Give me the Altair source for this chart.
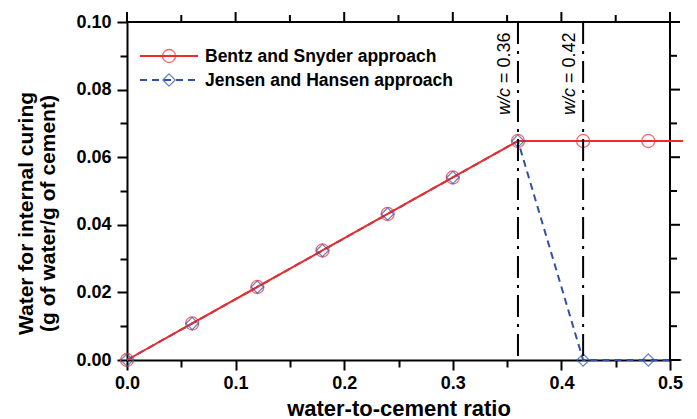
import altair as alt
import pandas as pd

# ---- data ----
wc = [0.0, 0.06, 0.12, 0.18, 0.24, 0.30, 0.36, 0.42, 0.48]
bentz = [0.0, 0.0108, 0.0216, 0.0324, 0.0432, 0.0540, 0.0648, 0.0648, 0.0648]
jensen = [0.0, 0.0108, 0.0216, 0.0324, 0.0432, 0.0540, 0.0648, 0.0, 0.0]
line_end_wc = 0.512          # lines run a little past the last marker
line_end_bentz = 0.0648
line_end_jensen = 0.0
wc_limits = [0.36, 0.42]
x_ticks = [0.0, 0.05, 0.1, 0.15, 0.2, 0.25, 0.3, 0.35, 0.4, 0.45, 0.5]
y_ticks = [0.0, 0.01, 0.02, 0.03, 0.04, 0.05, 0.06, 0.07, 0.08, 0.09, 0.1]
legend_labels = ["Bentz and Snyder approach", "Jensen and Hansen approach"]

RED = "#ee2b2b"
BLUE = "#3050a8"
FONT = "Liberation Sans"

W, H = 543, 338
MAJ, MIN = 10, 7

pts = pd.DataFrame({"wc": wc, "bentz": bentz, "jensen": jensen})
lines = pd.DataFrame({
    "wc": wc + [line_end_wc],
    "bentz": bentz + [line_end_bentz],
    "jensen": jensen + [line_end_jensen],
})
limits = pd.DataFrame({"wc": wc_limits})
xt = pd.DataFrame({"wc": x_ticks})
yt = pd.DataFrame({"y": y_ticks})

xs = alt.Scale(domain=[0, 0.5], nice=False, zero=False)
ys = alt.Scale(domain=[0, 0.1], nice=False, zero=False)

x_major = "round(datum.value*100) % 10 === 0"
y_major = "round(datum.value*100) % 2 === 0"

common_axis = dict(
    domainColor="black", domainWidth=2, tickColor="black", tickWidth=2,
    labelFlush=False,
    labelFont=FONT, labelFontWeight="bold", labelFontSize=18, labelColor="black",
    titleFont=FONT, titleFontWeight="bold", titleColor="black",
    grid=False,
)

x_bottom = alt.Axis(
    orient="bottom", values=x_ticks, title="water-to-cement ratio",
    labelExpr=f"{x_major} ? format(datum.value, '.1f') : ''",
    tickSize={"condition": {"test": x_major, "value": MAJ}, "value": MIN},
    labelPadding=4, titlePadding=6, titleFontSize=22, **common_axis,
)
y_left = alt.Axis(
    orient="left", values=y_ticks,
    title=["Water for internal curing", "(g of water/g of cement)"],
    labelExpr=f"{y_major} ? format(datum.value, '.2f') : ''",
    tickSize={"condition": {"test": y_major, "value": MAJ}, "value": MIN},
    labelPadding=6, titlePadding=17, titleLineHeight=22, titleFontSize=21,
    titleY=191, **common_axis,
)


def X(field):
    return alt.X(f"{field}:Q", scale=xs, axis=x_bottom)


def Y(field):
    return alt.Y(f"{field}:Q", scale=ys, axis=y_left)


jensen_line = alt.Chart(lines).mark_line(
    color=BLUE, strokeWidth=2, strokeDash=[7, 5]
).encode(x=X("wc"), y=Y("jensen"))
bentz_line = alt.Chart(lines).mark_line(color=RED, strokeWidth=2).encode(
    x=X("wc"), y=Y("bentz"))
bentz_pts = alt.Chart(pts).mark_point(
    shape="circle", size=170, filled=False, color=RED, strokeWidth=1.3
).encode(x=X("wc"), y=Y("bentz"))
jensen_pts = alt.Chart(pts).mark_point(
    shape="diamond", size=150, filled=False, color=BLUE, strokeWidth=1.3
).encode(x=X("wc"), y=Y("jensen"))
rules = alt.Chart(limits).mark_rule(
    color="black", strokeWidth=2, strokeDash=[22, 7, 3, 7]
).encode(x=X("wc"))

# ---- mirrored ticks on the top and right frame edges ----
tick_style = dict(color="black", strokeWidth=2)
x_is_major = "round(datum.wc*100) % 10 === 0"
y_is_major = "round(datum.y*100) % 2 === 0"
top_major = alt.Chart(xt).transform_filter(x_is_major).mark_rule(**tick_style).encode(
    x=X("wc"), y=alt.value(-MAJ), y2=alt.value(0))
top_minor = alt.Chart(xt).transform_filter(f"!({x_is_major})").mark_rule(**tick_style).encode(
    x=X("wc"), y=alt.value(-MIN), y2=alt.value(0))
right_major = alt.Chart(yt).transform_filter(y_is_major).mark_rule(**tick_style).encode(
    y=Y("y"), x=alt.value(W), x2=alt.value(W + MAJ))
right_minor = alt.Chart(yt).transform_filter(f"!({y_is_major})").mark_rule(**tick_style).encode(
    y=Y("y"), x=alt.value(W), x2=alt.value(W + MIN))
right_edge = alt.Chart(yt).mark_rule(**tick_style).encode(
    x=alt.value(W), y=alt.value(-1), y2=alt.value(H + 1))
top_edge = alt.Chart(xt).mark_rule(**tick_style).encode(
    y=alt.value(0), x=alt.value(0), x2=alt.value(W + 1))

wc_italic = alt.Chart(limits).mark_text(
    text="w/c", font=FONT, fontSize=18, fontStyle="italic", angle=270,
    align="left", baseline="middle", dy=-13, color="black",
).encode(x=X("wc"), y=alt.value(93))
wc_value = alt.Chart(limits).transform_calculate(
    lab="'= ' + format(datum.wc, '.2f')"
).mark_text(
    font=FONT, fontSize=18, angle=270, align="left", baseline="middle",
    dx=32, dy=-13, color="black",
).encode(x=X("wc"), y=alt.value(93), text="lab:N")

# ---- manual legend (top-left, inside the plot) ----
leg1 = pd.DataFrame({"label": [legend_labels[0]]})
leg2 = pd.DataFrame({"label": [legend_labels[1]]})
leg_line1 = alt.Chart(leg1).mark_rule(color=RED, strokeWidth=2).encode(
    x=alt.value(13), x2=alt.value(71), y=alt.value(34))
leg_pt1 = alt.Chart(leg1).mark_point(
    shape="circle", size=170, filled=False, color=RED, strokeWidth=1.3
).encode(x=alt.value(42), y=alt.value(34))
leg_txt1 = alt.Chart(leg1).mark_text(
    font=FONT, fontSize=17.5, fontWeight="bold", align="left", baseline="middle", color="black"
).encode(x=alt.value(78), y=alt.value(35), text="label:N")
leg_line2 = alt.Chart(leg2).mark_rule(color=BLUE, strokeWidth=2, strokeDash=[7, 5]).encode(
    x=alt.value(13), x2=alt.value(71), y=alt.value(58))
leg_pt2 = alt.Chart(leg2).mark_point(
    shape="diamond", size=150, filled=False, color=BLUE, strokeWidth=1.3
).encode(x=alt.value(42), y=alt.value(58))
leg_txt2 = alt.Chart(leg2).mark_text(
    font=FONT, fontSize=17.5, fontWeight="bold", align="left", baseline="middle", color="black"
).encode(x=alt.value(78), y=alt.value(59), text="label:N")

chart = alt.layer(
    jensen_line, top_edge, right_edge, top_major, top_minor, right_major, right_minor,
    bentz_line, bentz_pts, jensen_pts, rules, wc_italic, wc_value,
    leg_line1, leg_pt1, leg_txt1, leg_line2, leg_pt2, leg_txt2,
).properties(
    width=W, height=H,
    background="white",
    autosize=alt.AutoSizeParams(type="none"),
    padding={"left": 119, "top": 14, "right": 19, "bottom": 59},
).configure_view(stroke=None)

chart.save("out.html", embed_options={"renderer": "svg", "actions": False})
